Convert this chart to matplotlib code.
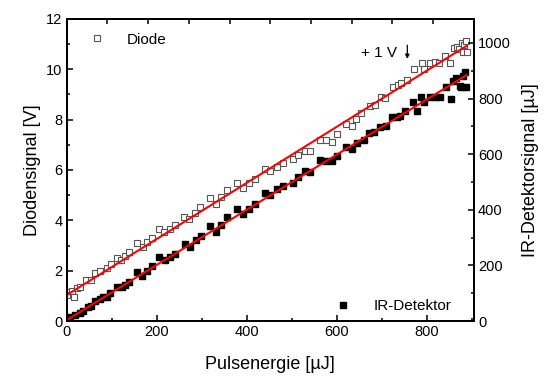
import numpy as np
import matplotlib
matplotlib.use("Agg")
import matplotlib.pyplot as plt
from matplotlib.ticker import MultipleLocator

plt.rcParams['font.family'] = ['Liberation Sans', 'DejaVu Sans']

# ---------------------------------------------------------------------------
# DATA
# Diode signal: pulse energy [uJ] vs. diode signal [V]
diode_x = [0, 1, 11, 16, 22, 30, 44, 55, 63, 74, 89, 98, 112, 121, 130, 139,
           157, 169, 178, 189, 206, 216, 230, 241, 261, 272, 285, 296, 319,
           332, 344, 357, 379, 391, 406, 418, 441, 453, 467, 480, 502, 515,
           529, 541, 563, 576, 589, 600, 621, 633, 644, 655, 674, 685, 698,
           707, 726, 737, 744, 756, 772, 789, 794, 807, 818, 828, 841, 852,
           861, 867, 872, 878, 881, 883, 887, 889]
diode_y = [1.16, 1.03, 1.20, 0.97, 1.30, 1.34, 1.63, 1.63, 1.92, 2.00, 2.09,
           2.26, 2.49, 2.42, 2.58, 2.75, 3.09, 2.95, 3.15, 3.31, 3.64, 3.55,
           3.64, 3.81, 4.12, 4.05, 4.28, 4.52, 4.87, 4.65, 4.91, 5.20, 5.47,
           5.30, 5.47, 5.65, 6.04, 5.97, 6.13, 6.27, 6.44, 6.60, 6.77, 6.77,
           7.19, 7.19, 7.12, 7.43, 7.81, 7.75, 8.01, 8.25, 8.54, 8.58, 8.89,
           8.85, 9.29, 9.38, 9.44, 9.57, 10.00, 10.24, 10.00, 10.26, 10.30,
           10.24, 10.53, 10.24, 10.83, 10.90, 10.80, 11.03, 10.68, 10.97,
           11.10, 10.70]

# IR detector: pulse energy [uJ] vs. IR detector signal [uJ]
ir_x = [0, 7, 18, 30, 37, 48, 55, 63, 74, 81, 89, 96, 112, 122, 130, 139,
        157, 167, 178, 189, 206, 218, 230, 241, 263, 274, 288, 298, 318, 333,
        344, 357, 379, 391, 406, 418, 441, 453, 468, 480, 502, 515, 529, 541,
        563, 576, 589, 600, 621, 633, 646, 660, 672, 684, 696, 709, 722, 733,
        740, 752, 770, 779, 787, 794, 807, 818, 830, 844, 853, 859, 865, 873,
        876, 880, 885, 887]
ir_y = [9, 15, 22, 30, 36, 52, 54, 73, 78, 85, 88, 100, 121, 124, 130, 141,
        178, 163, 181, 198, 231, 219, 229, 241, 276, 267, 292, 306, 343, 322,
        345, 373, 402, 385, 402, 421, 459, 453, 474, 484, 498, 517, 541, 537,
        580, 577, 577, 594, 625, 618, 641, 652, 675, 679, 699, 702, 733, 735,
        737, 754, 789, 755, 805, 789, 805, 805, 807, 841, 798, 865, 873, 846,
        843, 880, 894, 841]

# Linear fits (end points)
fit_x = [0, 889]
diode_fit = [1.03, 10.93]
ir_fit = [3.6, 885]

# ---------------------------------------------------------------------------
fig = plt.figure(figsize=(5.46, 3.76), dpi=100)
ax = fig.add_axes([0.122, 0.146, 0.746, 0.804])
ax2 = ax.twinx()
ax3 = ax.twiny()

ax.plot(fit_x, diode_fit, color='red', lw=1.5, zorder=3)
d, = ax.plot(diode_x, diode_y, 's', mfc='white', mec='#555555', mew=0.8,
             ms=3.8, ls='none', label='Diode', zorder=2)
ax2.plot(fit_x, ir_fit, color='red', lw=1.5, zorder=3)
r, = ax2.plot(ir_x, ir_y, 's', color='black', ms=3.8, ls='none',
              label='IR-Detektor', zorder=2)

# axis ranges
ax.set_xlim(0, 905)
ax.set_ylim(0, 12)
ax2.set_ylim(0, 1087)
ax3.set_xlim(0, 10)

# ticks
ax.xaxis.set_major_locator(MultipleLocator(200))
ax.xaxis.set_minor_locator(MultipleLocator(100))
ax.yaxis.set_major_locator(MultipleLocator(2))
ax.yaxis.set_minor_locator(MultipleLocator(1))
ax2.yaxis.set_major_locator(MultipleLocator(200))
ax2.yaxis.set_minor_locator(MultipleLocator(100))
ax3.xaxis.set_major_locator(MultipleLocator(1))
ax3.set_xticklabels([])

for a in (ax, ax2, ax3):
    a.tick_params(which='major', direction='in', length=4, width=1.1,
                  labelsize=10.5, pad=3)
    a.tick_params(which='minor', direction='in', length=2.5, width=1.1)
    for s in a.spines.values():
        s.set_linewidth(1.2)
ax3.tick_params(which='major', length=3.5)

ax.set_xlabel('Pulsenergie [µJ]', fontsize=13, labelpad=12)
ax.set_ylabel('Diodensignal [V]', fontsize=13, labelpad=4)
ax2.set_ylabel('IR-Detektorsignal [µJ]', fontsize=13, labelpad=8)

# legends
ax.legend(handles=[d], loc='upper left', frameon=False, fontsize=11,
          handletextpad=1.2, handlelength=1.5, borderaxespad=0.3,
          bbox_to_anchor=(0.02, 0.99))
ax2.legend(handles=[r], loc='lower right', frameon=False, fontsize=11,
           handletextpad=1.2, handlelength=1.5, borderaxespad=0.3,
           bbox_to_anchor=(0.97, -0.01))

# +1 V offset note
ax.text(655, 10.63, '+ 1 V', fontsize=11, va='center', ha='left')
ax.annotate('', xy=(757, 10.3), xytext=(757, 11.06),
            arrowprops=dict(arrowstyle='-|>', color='black', lw=0.9,
                            mutation_scale=6))

fig.savefig('out.png', dpi=100)
